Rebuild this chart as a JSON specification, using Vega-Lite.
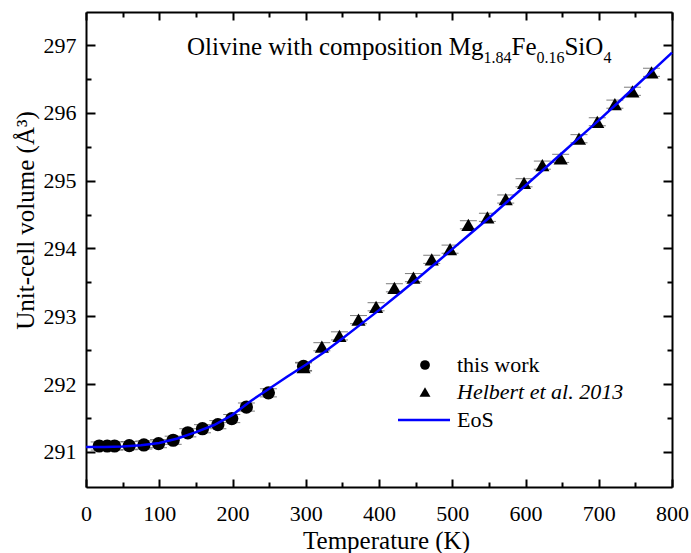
{
  "$schema": "https://vega.github.io/schema/vega-lite/v6.json",
  "width": 586,
  "height": 475,
  "autosize": {"type": "none"},
  "padding": {"left": 86, "top": 12, "right": 19, "bottom": 66},
  "background": "white",
  "config": {
    "font": "Liberation Serif",
    "view": {"stroke": null},
    "axis": {
      "domainColor": "black", "domainWidth": 2, "tickColor": "black", "tickWidth": 2,
      "labelColor": "black", "titleColor": "black", "labelFont": "Liberation Serif", "titleFont": "Liberation Serif",
      "labelFontSize": 22, "titleFontSize": 25, "titleFontWeight": "normal", "grid": false,
      "labelFlush": false, "labelOverlap": false, "labelBound": false
    },
    "legend": {
      "labelFont": "Liberation Serif", "labelFontSize": 22, "labelColor": "black", "labelLimit": 400,
      "padding": 0, "clipHeight": 22
    }
  },
  "resolve": {"scale": {"shape": "independent"}},
  "datasets": {
    "eos": [
      {"T": 0, "V": 291.07}, {"T": 25, "V": 291.071}, {"T": 50, "V": 291.078}, {"T": 75, "V": 291.095},
      {"T": 100, "V": 291.13}, {"T": 125, "V": 291.195}, {"T": 150, "V": 291.29}, {"T": 175, "V": 291.395},
      {"T": 200, "V": 291.545}, {"T": 225, "V": 291.75}, {"T": 250, "V": 291.93}, {"T": 275, "V": 292.11},
      {"T": 300, "V": 292.285}, {"T": 325, "V": 292.47}, {"T": 350, "V": 292.67}, {"T": 375, "V": 292.88},
      {"T": 400, "V": 293.09}, {"T": 425, "V": 293.31}, {"T": 450, "V": 293.53}, {"T": 475, "V": 293.76},
      {"T": 500, "V": 293.99}, {"T": 525, "V": 294.22}, {"T": 550, "V": 294.45}, {"T": 575, "V": 294.69},
      {"T": 600, "V": 294.93}, {"T": 625, "V": 295.17}, {"T": 650, "V": 295.41}, {"T": 675, "V": 295.65},
      {"T": 700, "V": 295.89}, {"T": 725, "V": 296.14}, {"T": 750, "V": 296.39}, {"T": 775, "V": 296.64},
      {"T": 800, "V": 296.89}
    ],
    "helbert": [
      {"T": 297, "V": 292.25, "err": 0.06}, {"T": 322, "V": 292.55, "err": 0.06},
      {"T": 346, "V": 292.71, "err": 0.06}, {"T": 372, "V": 292.95, "err": 0.06},
      {"T": 396, "V": 293.14, "err": 0.06}, {"T": 421, "V": 293.42, "err": 0.06},
      {"T": 447, "V": 293.57, "err": 0.06}, {"T": 472, "V": 293.84, "err": 0.06},
      {"T": 497, "V": 293.99, "err": 0.06}, {"T": 522, "V": 294.35, "err": 0.06},
      {"T": 548, "V": 294.46, "err": 0.06}, {"T": 573, "V": 294.73, "err": 0.06},
      {"T": 598, "V": 294.97, "err": 0.06}, {"T": 623, "V": 295.23, "err": 0.06},
      {"T": 648, "V": 295.33, "err": 0.06}, {"T": 673, "V": 295.62, "err": 0.06},
      {"T": 698, "V": 295.87, "err": 0.06}, {"T": 722, "V": 296.13, "err": 0.06},
      {"T": 746, "V": 296.32, "err": 0.06}, {"T": 772, "V": 296.6, "err": 0.06}
    ],
    "thiswork": [
      {"T": 18, "V": 291.085, "err": 0.06}, {"T": 29, "V": 291.085, "err": 0.06},
      {"T": 39, "V": 291.085, "err": 0.06}, {"T": 59, "V": 291.09, "err": 0.06},
      {"T": 79, "V": 291.1, "err": 0.06}, {"T": 99, "V": 291.12, "err": 0.06},
      {"T": 119, "V": 291.17, "err": 0.06}, {"T": 139, "V": 291.28, "err": 0.06},
      {"T": 159, "V": 291.34, "err": 0.06}, {"T": 180, "V": 291.4, "err": 0.06},
      {"T": 199, "V": 291.49, "err": 0.06}, {"T": 219, "V": 291.66, "err": 0.06},
      {"T": 249, "V": 291.87, "err": 0.06}, {"T": 297, "V": 292.26, "err": 0.06}
    ]
  },
  "layer": [
    {
      "data": {"name": "thiswork"},
      "mark": {"type": "errorbar", "ticks": {"size": 17, "thickness": 1, "color": "#444444"}, "rule": {"color": "#444444", "strokeWidth": 1}},
      "encoding": {
        "x": {"field": "T", "type": "quantitative",
          "axis": {"orient": "bottom", "labels": false, "domain": false, "title": null, "tickSize": -5,
            "values": [50, 150, 250, 350, 450, 550, 650, 750]}},
        "y": {"field": "V", "type": "quantitative",
          "axis": {"orient": "left", "labels": false, "domain": false, "title": null, "tickSize": -5,
            "values": [291.5, 292.5, 293.5, 294.5, 295.5, 296.5]}},
        "yError": {"field": "err"}
      }
    },
    {
      "data": {"name": "helbert"},
      "mark": {"type": "errorbar", "ticks": {"size": 17, "thickness": 1, "color": "#444444"}, "rule": {"color": "#444444", "strokeWidth": 1}},
      "encoding": {
        "x": {"field": "T", "type": "quantitative",
          "axis": {"orient": "top", "labels": false, "domain": false, "title": null, "tickSize": -5,
            "values": [50, 150, 250, 350, 450, 550, 650, 750]}},
        "y": {"field": "V", "type": "quantitative",
          "axis": {"orient": "right", "labels": false, "domain": false, "title": null, "tickSize": -5,
            "values": [291.5, 292.5, 293.5, 294.5, 295.5, 296.5]}},
        "yError": {"field": "err"}
      }
    },
    {
      "data": {"name": "helbert"},
      "mark": {"type": "point", "filled": true, "opacity": 1, "size": 200, "color": "black"},
      "encoding": {
        "x": {"field": "T", "type": "quantitative", "axis": null},
        "y": {"field": "V", "type": "quantitative", "axis": null},
        "shape": {
          "datum": "Helbert et al. 2013", "type": "nominal",
          "scale": {"range": ["triangle-up"]},
          "legend": {"orient": "none", "legendX": 328, "legendY": 369, "title": null,
            "labelFontStyle": "italic", "symbolSize": 120, "labelOffset": 21,
            "symbolFillColor": "black", "symbolStrokeColor": "black", "symbolStrokeWidth": 0}
        }
      }
    },
    {
      "data": {"name": "thiswork"},
      "mark": {"type": "point", "filled": true, "opacity": 1, "size": 175, "color": "black"},
      "encoding": {
        "x": {
          "field": "T", "type": "quantitative",
          "scale": {"domain": [0, 800], "nice": false, "zero": false},
          "axis": {
            "orient": "bottom",
            "values": [0, 100, 200, 300, 400, 500, 600, 700, 800],
            "tickSize": -8, "labelPadding": 24,
            "title": "Temperature (K)", "titleX": 300, "titleY": 61, "titleBaseline": "alphabetic", "titleAlign": "center"
          }
        },
        "y": {
          "field": "V", "type": "quantitative",
          "scale": {"domain": [290.48, 297.49], "nice": false, "zero": false},
          "axis": {
            "orient": "left",
            "values": [291, 292, 293, 294, 295, 296, 297],
            "format": "d",
            "tickSize": -9, "labelPadding": 19,
            "title": "Unit-cell volume (Å³)", "titleX": -61, "titleY": 208, "titleBaseline": "middle", "titleAlign": "center"
          }
        },
        "shape": {
          "datum": "this work", "type": "nominal",
          "scale": {"range": ["circle"]},
          "legend": {"orient": "none", "legendX": 328, "legendY": 342, "title": null,
            "symbolSize": 95, "labelOffset": 21,
            "symbolFillColor": "black", "symbolStrokeColor": "black", "symbolStrokeWidth": 0}
        }
      }
    },
    {
      "data": {"name": "eos"},
      "mark": {"type": "line", "strokeWidth": 2.5},
      "encoding": {
        "x": {
          "field": "T", "type": "quantitative",
          "axis": {
            "orient": "top", "labels": false, "title": null,
            "values": [0, 100, 200, 300, 400, 500, 600, 700, 800],
            "tickSize": -8
          }
        },
        "y": {
          "field": "V", "type": "quantitative",
          "axis": {
            "orient": "right", "labels": false, "title": null,
            "values": [291, 292, 293, 294, 295, 296, 297],
            "tickSize": -9
          }
        },
        "stroke": {
          "datum": "EoS", "type": "nominal",
          "scale": {"range": ["#0000ff"]},
          "legend": {"orient": "none", "legendX": 310.5, "legendY": 397, "title": null,
            "symbolType": "stroke", "symbolSize": 2704, "symbolStrokeWidth": 2.5, "labelOffset": 5.5}
        }
      }
    },
    {
      "data": {"values": [{}]},
      "mark": {"type": "text", "text": "Olivine with composition Mg", "align": "left", "baseline": "alphabetic", "fontSize": 25, "font": "Liberation Serif", "color": "black"},
      "encoding": {"x": {"datum": 137.9, "type": "quantitative", "axis": null}, "y": {"datum": 296.855, "type": "quantitative", "axis": null}}
    },
    {
      "data": {"values": [{}]},
      "mark": {"type": "text", "text": "1.84", "align": "left", "baseline": "alphabetic", "fontSize": 16, "font": "Liberation Serif", "color": "black"},
      "encoding": {"x": {"datum": 542.7, "type": "quantitative", "axis": null}, "y": {"datum": 296.742, "type": "quantitative", "axis": null}}
    },
    {
      "data": {"values": [{}]},
      "mark": {"type": "text", "text": "Fe", "align": "left", "baseline": "alphabetic", "fontSize": 25, "font": "Liberation Serif", "color": "black"},
      "encoding": {"x": {"datum": 580.9, "type": "quantitative", "axis": null}, "y": {"datum": 296.855, "type": "quantitative", "axis": null}}
    },
    {
      "data": {"values": [{}]},
      "mark": {"type": "text", "text": "0.16", "align": "left", "baseline": "alphabetic", "fontSize": 16, "font": "Liberation Serif", "color": "black"},
      "encoding": {"x": {"datum": 615.0, "type": "quantitative", "axis": null}, "y": {"datum": 296.742, "type": "quantitative", "axis": null}}
    },
    {
      "data": {"values": [{}]},
      "mark": {"type": "text", "text": "SiO", "align": "left", "baseline": "alphabetic", "fontSize": 25, "font": "Liberation Serif", "color": "black"},
      "encoding": {"x": {"datum": 653.2, "type": "quantitative", "axis": null}, "y": {"datum": 296.855, "type": "quantitative", "axis": null}}
    },
    {
      "data": {"values": [{}]},
      "mark": {"type": "text", "text": "4", "align": "left", "baseline": "alphabetic", "fontSize": 16, "font": "Liberation Serif", "color": "black"},
      "encoding": {"x": {"datum": 706.5, "type": "quantitative", "axis": null}, "y": {"datum": 296.742, "type": "quantitative", "axis": null}}
    }
  ]
}
